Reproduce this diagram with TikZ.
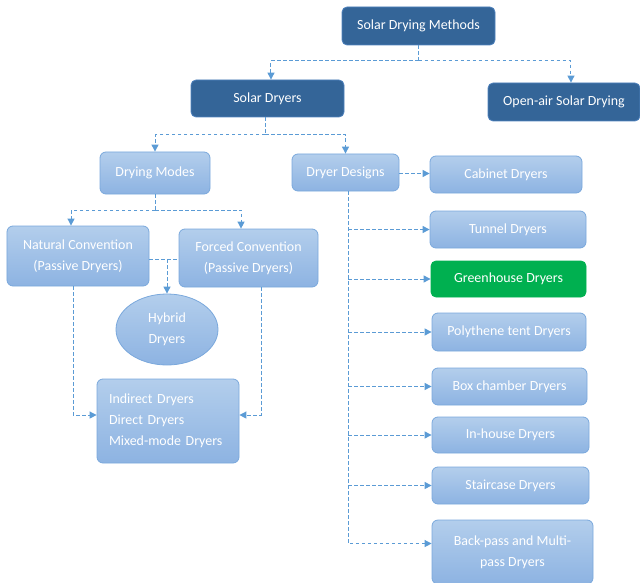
\documentclass[tikz,border=0pt]{standalone}
\usepackage{fontspec}
\setmainfont{Carlito}
\usetikzlibrary{arrows.meta,shapes.geometric}
\definecolor{darkbox}{HTML}{346598}
\definecolor{darkborder}{HTML}{4F82BD}
\definecolor{lighttop}{HTML}{B3CEEC}
\definecolor{lightbot}{HTML}{8DB3E2}
\definecolor{lightborder}{HTML}{7AA8DC}
\definecolor{greenbox}{HTML}{00B050}
\definecolor{connc}{HTML}{5B9BD5}
\tikzset{
  darknode/.style={draw=darkborder, line width=0.8bp, fill=darkbox, rounded corners=5bp, text=white, align=center, inner sep=0pt},
  lightnode/.style={draw=lightborder, line width=0.8bp, top color=lighttop, bottom color=lightbot, rounded corners=6bp, text=white, align=center, inner sep=0pt},
  greennode/.style={draw=greenbox, line width=0.8bp, fill=greenbox, rounded corners=5bp, text=white, align=center, inner sep=0pt},
  conn/.style={draw=connc, line width=1bp, dash pattern=on 3.5bp off 2.5bp},
  arr/.style={conn, -{Triangle[length=7bp,width=7bp]}, shorten >=0bp},
}
\begin{document}
\begin{tikzpicture}[x=1bp,y=-1bp, every node/.style={font=\fontsize{14}{21}\selectfont}]
\useasboundingbox (0,0) rectangle (640,583);
% top level
\node[darknode, minimum width=153bp, minimum height=38bp] (sdm) at (418.5,26) {Solar Drying Methods};
\node[darknode, minimum width=153bp, minimum height=37bp] (sd) at (267.5,98.5) {Solar Dryers};
\node[darknode, minimum width=152bp, minimum height=38bp] (oa) at (564,102) {Open-air Solar Drying};
% second level
\node[lightnode, minimum width=110bp, minimum height=42bp] (dm) at (155,173) {Drying Modes};
\node[lightnode, minimum width=107bp, minimum height=37bp] (dd) at (345.5,172.5) {Dryer Designs};
% modes
\node[lightnode, minimum width=142bp, minimum height=60bp] (nc) at (78,256) {Natural Convention\\(Passive Dryers)};
\node[lightnode, minimum width=139bp, minimum height=58bp] (fc) at (248.5,258) {Forced Convention\\(Passive Dryers)};
\node[ellipse, draw=lightborder, line width=0.8bp, top color=lighttop, bottom color=lightbot, text=white, align=center, inner sep=0pt, minimum width=102bp, minimum height=71bp] (hy) at (167,329.5) {Hybrid\\Dryers};
\node[lightnode, minimum width=142bp, minimum height=84bp, align=left, text width=118bp, inner sep=0pt] (ind) at (168,421) {Indirect Dryers\\Direct Dryers\\Mixed-mode Dryers};
% designs
\node[lightnode, minimum width=152bp, minimum height=37bp] (cab) at (506,174.5) {Cabinet Dryers};
\node[lightnode, minimum width=156bp, minimum height=37bp] (tun) at (508,229.5) {Tunnel Dryers};
\node[greennode, minimum width=155bp, minimum height=36bp] (gh) at (508.5,279) {Greenhouse Dryers};
\node[lightnode, minimum width=154bp, minimum height=38bp] (pt) at (509,332) {Polythene tent Dryers};
\node[lightnode, minimum width=155bp, minimum height=37bp] (bc) at (509.5,386.5) {Box chamber Dryers};
\node[lightnode, minimum width=157bp, minimum height=36bp] (ih) at (510.5,435) {In-house Dryers};
\node[lightnode, minimum width=157bp, minimum height=37bp] (st) at (510.5,485.5) {Staircase Dryers};
\node[lightnode, minimum width=161bp, minimum height=64bp] (bp) at (512.5,552) {Back-pass and Multi-\\pass Dryers};
% connectors: top
\coordinate (j1) at (418.5,61);
\draw[conn] (sdm.south) -- (j1);
\draw[arr] (j1) -| ([xshift=3.5]sd.north);
\draw[arr] (j1) -| ([xshift=7]oa.north);
% solar dryers
\coordinate (j2) at (265,135);
\draw[conn] (sd.south -| j2) -- (j2);
\draw[arr] (j2) -| (dm.north);
\draw[arr] (j2) -| (dd.north);
% drying modes
\coordinate (j3) at (155,210);
\draw[conn] (dm.south) -- (j3);
\draw[arr] (j3) -| ([xshift=-7]nc.north);
\draw[arr] (j3) -| ([xshift=-7.5]fc.north);
% hybrid
\coordinate (j4) at (167,259);
\draw[conn] (nc.east |- j4) -- (fc.west |- j4);
\draw[arr] (j4) -- (hy.north);
% to indirect box
\coordinate (j5) at (73,0);
\coordinate (j6) at (261,0);
\draw[arr] (nc.south -| j5) |- ([yshift=6]ind.west);
\draw[arr] (fc.south -| j6) |- ([yshift=6]ind.east);
% dryer designs
\coordinate (dde) at ([yshift=-1]dd.east);
\draw[arr] (dde) -- (cab.west |- dde);
\coordinate (sp) at (348,191);
\draw[arr] (dd.south -| sp) |- ([yshift=8.5]bp.west);
\foreach \n in {tun,gh,pt,bc,ih,st}{
  \draw[arr] (sp |- \n.west) -- (\n.west);
}
\end{tikzpicture}
\end{document}
